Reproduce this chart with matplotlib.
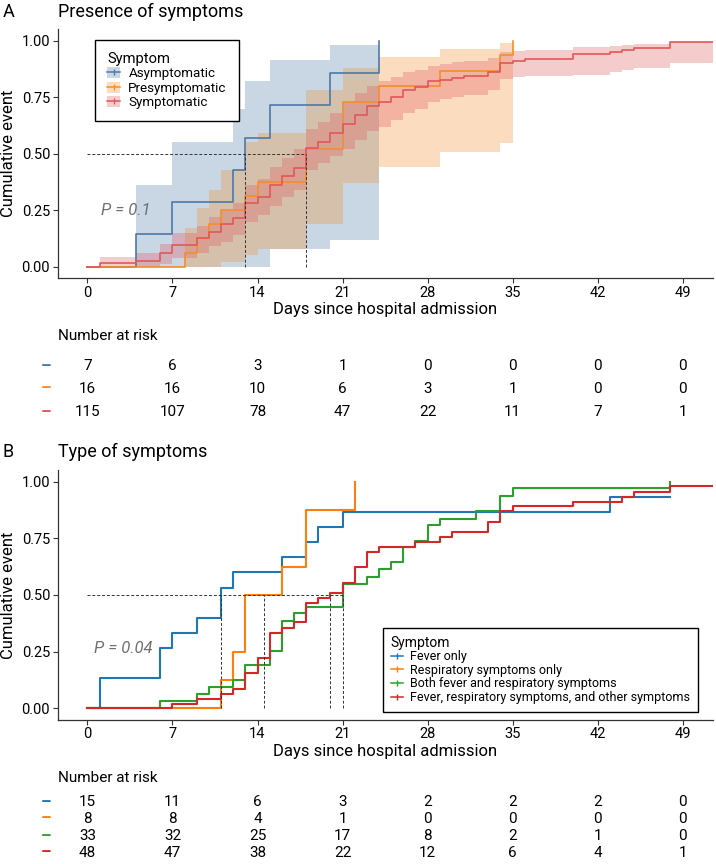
import numpy as np
import matplotlib.pyplot as plt
from matplotlib.lines import Line2D
from matplotlib.patches import Patch

plt.rcParams['font.family'] = ['Roboto', 'DejaVu Sans']

# ---------------- DATA ----------------
day_ticks = [0, 7, 14, 21, 28, 35, 42, 49]

# Panel A: presence of symptoms
groups_a = ['Asymptomatic', 'Presymptomatic', 'Symptomatic']
colors_a = ['#4E79A7', '#F28E2B', '#E15759']

asym_t = [0, 4, 7, 12, 13, 15, 20, 24]
asym_v = [0, 0.143, 0.286, 0.429, 0.571, 0.714, 0.857, 1.0]
asym_lo = [0, 0, 0, 0, 0, 0.077, 0.12, 1.0]
asym_hi = [0, 0.36, 0.55, 0.70, 0.82, 0.915, 0.98, 1.0]

presym_t = [0, 8, 9, 10, 11, 13, 14, 18, 21, 24, 29, 34, 35]
presym_v = [0, 0.0625, 0.125, 0.1875, 0.25, 0.3125, 0.375, 0.52, 0.73, 0.80, 0.866, 0.937, 1.0]
presym_lo = [0, 0, 0, 0, 0.02, 0.05, 0.08, 0.19, 0.37, 0.44, 0.506, 0.549, 1.0]
presym_hi = [0, 0.17, 0.26, 0.34, 0.43, 0.55, 0.59, 0.78, 0.88, 0.926, 0.963, 0.99, 1.0]

sym_t = [0, 1, 4, 6, 7, 9, 10, 11, 12, 13, 14, 15, 16, 17, 18, 19, 20, 21, 22, 23,
         24, 25, 26, 27, 28, 29, 30, 31, 33, 34, 35, 36, 40, 43, 44, 45, 48, 51.5]
sym_v = [0, 0.017, 0.026, 0.06, 0.094, 0.125, 0.155, 0.19, 0.214, 0.28, 0.31, 0.36, 0.40, 0.435,
         0.524, 0.553, 0.59, 0.63, 0.67, 0.71, 0.73, 0.75, 0.78, 0.795, 0.82, 0.826, 0.836, 0.845,
         0.86, 0.90, 0.91, 0.92, 0.94, 0.949, 0.959, 0.969, 0.993, 0.993]
sym_lo = [0, 0, 0, 0.01, 0.04, 0.06, 0.09, 0.11, 0.14, 0.20, 0.23, 0.27, 0.31, 0.34, 0.43, 0.46,
          0.49, 0.52, 0.56, 0.60, 0.62, 0.65, 0.68, 0.70, 0.73, 0.74, 0.75, 0.76, 0.78, 0.83, 0.84,
          0.845, 0.85, 0.86, 0.87, 0.878, 0.90, 0.90]
sym_hi = [0, 0.045, 0.06, 0.10, 0.15, 0.18, 0.22, 0.25, 0.28, 0.36, 0.39, 0.44, 0.48, 0.52, 0.61,
          0.64, 0.68, 0.73, 0.77, 0.80, 0.82, 0.84, 0.86, 0.87, 0.89, 0.895, 0.905, 0.91, 0.925,
          0.95, 0.955, 0.958, 0.97, 0.975, 0.98, 0.985, 0.995, 0.995]

medians_a = [13, 18]
risk_a = [[7, 6, 3, 1, 0, 0, 0, 0],
          [16, 16, 10, 6, 3, 1, 0, 0],
          [115, 107, 78, 47, 22, 11, 7, 1]]
pval_a = 'P = 0.1'

# Panel B: type of symptoms
groups_b = ['Fever only', 'Respiratory symptoms only', 'Both fever and respiratory symptoms',
            'Fever, respiratory symptoms, and other symptoms']
colors_b = ['#1F77B4', '#FF7F0E', '#2CA02C', '#D62728']

fever_t = [0, 1, 6, 7, 9, 11, 12, 16, 18, 19, 21, 43, 48]
fever_v = [0, 0.133, 0.267, 0.333, 0.4, 0.533, 0.6, 0.667, 0.733, 0.8, 0.867, 0.933, 0.933]

resp_t = [0, 11, 12, 13, 16, 18, 22]
resp_v = [0, 0.125, 0.25, 0.5, 0.625, 0.875, 1.0]

both_t = [0, 6, 9, 10, 12, 13, 15, 16, 17, 18, 21, 23, 24, 25, 26, 27, 28, 29, 32, 34, 35, 48]
both_v = [0, 0.032, 0.062, 0.093, 0.125, 0.19, 0.254, 0.385, 0.419, 0.448, 0.548, 0.58, 0.613,
          0.647, 0.71, 0.74, 0.809, 0.837, 0.872, 0.937, 0.971, 1.0]

all_t = [0, 7, 9, 11, 12, 13, 14, 15, 16, 17, 18, 19, 20, 21, 22, 23, 24, 27, 29, 30,
         33, 34, 35, 40, 44, 45, 48, 51.5]
all_v = [0, 0.021, 0.042, 0.062, 0.084, 0.154, 0.22, 0.334, 0.353, 0.38, 0.466, 0.485, 0.51,
         0.552, 0.622, 0.69, 0.71, 0.735, 0.757, 0.78, 0.823, 0.87, 0.891, 0.912, 0.934, 0.956,
         0.982, 0.982]

medians_b = [11, 14.5, 20, 21]
risk_b = [[15, 11, 6, 3, 2, 2, 2, 0],
          [8, 8, 4, 1, 0, 0, 0, 0],
          [33, 32, 25, 17, 8, 2, 1, 0],
          [48, 47, 38, 22, 12, 6, 4, 1]]
pval_b = 'P = 0.04'

# ---------------- LAYOUT ----------------
W, H = 716, 864
fig = plt.figure(figsize=(W / 100, H / 100), dpi=100)


def px_axes(left, top, right, bottom):
    return fig.add_axes([left / W, 1 - bottom / H, (right - left) / W, (bottom - top) / H])


XLIM = (-2.45, 51.5)
YLIM = (-0.05, 1.05)
DASH = dict(color='#333333', lw=0.7, ls=(0, (3, 2)))


def style_axes(ax):
    ax.set_xlim(XLIM)
    ax.set_ylim(YLIM)
    for s in ['top', 'right']:
        ax.spines[s].set_visible(False)
    for s in ['left', 'bottom']:
        ax.spines[s].set_linewidth(0.9)
        ax.spines[s].set_color('#333333')
    ax.set_xticks(day_ticks)
    ax.set_yticks([0, 0.25, 0.5, 0.75, 1.0])
    ax.set_yticklabels(['0.00', '0.25', '0.50', '0.75', '1.00'])
    ax.tick_params(labelsize=10.5, length=3.5, width=0.8, color='#333333', pad=2)
    ax.set_xlabel('Days since hospital admission', fontsize=12, labelpad=2)
    ax.set_ylabel('Cumulative event', fontsize=12, labelpad=4)


def median_lines(ax, meds):
    ax.plot([0, max(meds)], [0.5, 0.5], **DASH)
    for m in meds:
        ax.plot([m, m], [0, 0.5], **DASH)


def risk_table(top_px, bottom_px, label_px, rows, colors):
    fig.text(58 / W, 1 - label_px / H, 'Number at risk', fontsize=11, va='center')
    tb = px_axes(57.7, top_px, 713, bottom_px)
    tb.set_xlim(XLIM)
    tb.set_ylim(len(rows) - 1, 0)
    tb.axis('off')
    for i, (row, c) in enumerate(zip(rows, colors)):
        tb.text(-3.4, i, '\u2013', color=c, fontsize=12, fontweight='bold',
                ha='center', va='center', clip_on=False)
        for d, n in zip(day_ticks, row):
            tb.text(d, i, str(n), fontsize=11, ha='center', va='center')


def make_legend(ax, handles, labels, x_px, y_px, loc, fs, **kw):
    leg = ax.legend(handles, labels, title='Symptom', loc=loc,
                    bbox_to_anchor=(x_px / W, 1 - y_px / H), bbox_transform=fig.transFigure,
                    fontsize=fs, title_fontsize=fs + 1, frameon=True, fancybox=False,
                    edgecolor='black', framealpha=1, borderaxespad=0,
                    handlelength=1.0, handletextpad=0.6, alignment='left', **kw)
    leg.get_frame().set_linewidth(1.0)
    return leg


# ---- Panel A ----
fig.text(3 / W, 1 - 12 / H, 'A', fontsize=13, va='center')
fig.text(58 / W, 1 - 12 / H, 'Presence of symptoms', fontsize=13, va='center')
ax1 = px_axes(57.7, 29.4, 713, 278)
style_axes(ax1)

bands_a = [(asym_t, asym_v, asym_lo, asym_hi),
           (presym_t, presym_v, presym_lo, presym_hi),
           (sym_t, sym_v, sym_lo, sym_hi)]
for (t, v, lo, hi), c in zip(bands_a, colors_a):
    ax1.fill_between(t, lo, hi, step='post', color=c, alpha=0.3, lw=0)
for (t, v, lo, hi), c in zip(bands_a, colors_a):
    ax1.step(t, v, where='post', color=c, lw=1.2)
median_lines(ax1, medians_a)
ax1.text(1.1, 0.25, pval_a, fontsize=12, style='italic', color='#707070', va='center')

handles_a = [(Patch(fc=c, alpha=0.3, lw=0), Line2D([], [], color=c, lw=1.1, marker='|', ms=5))
             for c in colors_a]
make_legend(ax1, handles_a, groups_a, 95, 40, 'upper left', 9.6,
            handleheight=0.9, borderpad=0.9, labelspacing=0.1)

risk_table(366, 412, 336, risk_a, colors_a)

# ---- Panel B ----
fig.text(3 / W, 1 - 452 / H, 'B', fontsize=13, va='center')
fig.text(58 / W, 1 - 452 / H, 'Type of symptoms', fontsize=13, va='center')
ax2 = px_axes(57.7, 470.4, 713, 719.6)
style_axes(ax2)

curves_b = [(fever_t, fever_v), (resp_t, resp_v), (both_t, both_v), (all_t, all_v)]
for (t, v), c in zip(curves_b, colors_b):
    ax2.step(t, v, where='post', color=c, lw=1.5)
median_lines(ax2, medians_b)
ax2.text(0.5, 0.265, pval_b, fontsize=12, style='italic', color='#707070', va='center')

handles_b = [Line2D([], [], color=c, lw=1.1, marker='|', ms=4) for c in colors_b]
make_legend(ax2, handles_b, groups_b, 698, 628, 'upper right', 9.0,
            borderpad=0.6, labelspacing=0.05)

risk_table(802, 853, 778, risk_b, colors_b)

fig.savefig('out.png', dpi=100)
